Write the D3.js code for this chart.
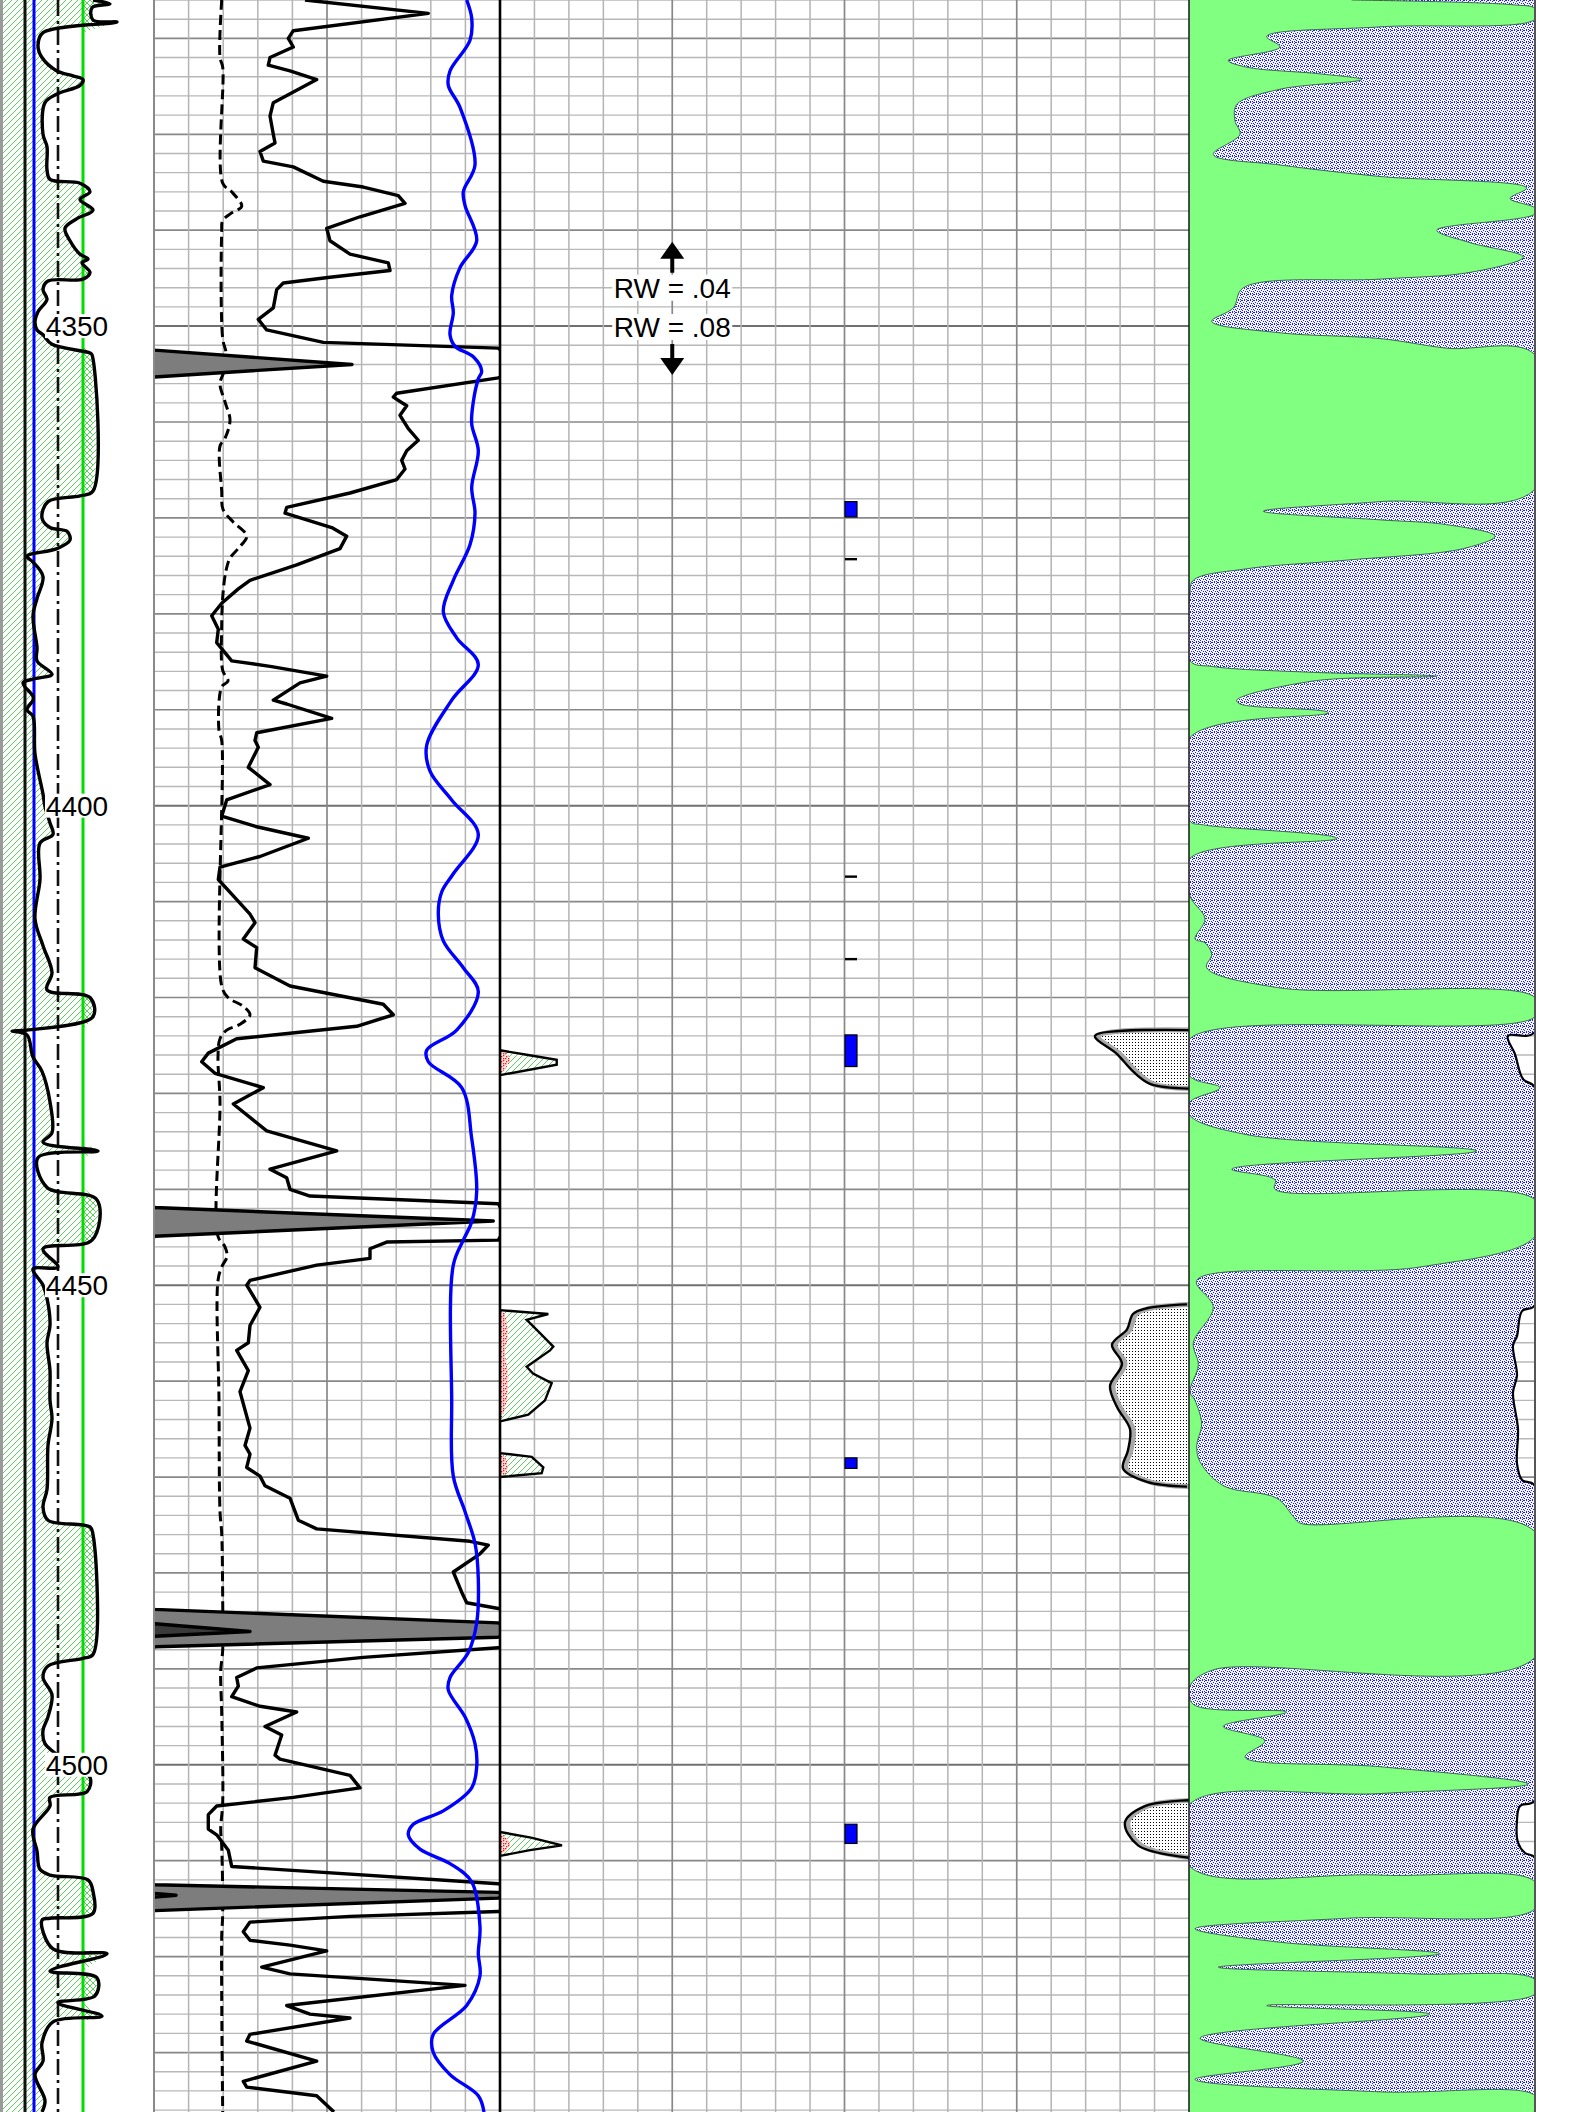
<!DOCTYPE html>
<html><head><meta charset="utf-8">
<script src="https://cdn.jsdelivr.net/npm/d3@7"></script>
<style>body{margin:0;background:#fff}svg{display:block}</style>
</head><body>
<svg id="chart" width="1584" height="2112"></svg>
<script>
// ---------------- DATA ----------------
const depthLabels = [4350, 4400, 4450, 4500];
const rwLabels = ["RW = .04", "RW = .08"];
const rwDepths = [4346.0, 4350.1];

// Track 1 gamma-ray style curve [depth, value 0-150]
const grCurve = [[4316.0,91],[4316.4,108],[4316.8,90],[4318.1,91],[4318.3,115],[4319.4,41],[4320.7,36],[4322.0,40],[4323.4,55],[4323.9,71],[4324.3,81],[4324.9,78],[4325.8,55],[4326.7,43],[4330.0,41],[4331.3,45],[4333.7,45],[4334.7,48],[4335.1,78],[4336.0,88],[4336.8,78],[4337.9,91],[4338.8,75],[4339.8,63],[4341.1,68],[4342.5,78],[4343.0,86],[4343.4,80],[4344.4,88],[4345.1,81],[4345.3,46],[4346.2,41],[4347.2,45],[4348.5,36],[4349.5,33],[4350.4,35],[4350.9,41],[4351.9,50],[4352.8,88],[4353.0,90],[4367.2,91],[4367.7,78],[4368.3,46],[4370.0,40],[4371.0,48],[4371.4,65],[4372.3,68],[4373.2,55],[4374.0,25],[4374.6,31],[4376.1,41],[4378.4,35],[4380.2,31],[4383.5,35],[4384.9,35],[4386.3,50],[4386.8,31],[4387.2,21],[4388.6,31],[4389.0,31],[4390.0,25],[4390.7,31],[4394.6,33],[4398.8,41],[4400.1,43],[4401.8,48],[4403.0,51],[4403.9,38],[4407.7,38],[4411.8,33],[4414.6,41],[4417.4,50],[4419.2,45],[4420.0,88],[4422.0,91],[4423.4,25],[4423.5,10],[4423.9,25],[4426.2,31],[4427.7,40],[4430.9,48],[4434.1,50],[4435.1,41],[4436.0,96],[4436.7,36],[4439.8,45],[4441.1,95],[4445.3,90],[4446.2,41],[4448.1,56],[4448.3,31],[4450.0,41],[4451.9,46],[4454.2,48],[4456.0,45],[4458.9,48],[4462.0,48],[4463.9,50],[4466.7,46],[4471.3,45],[4473.1,41],[4474.5,46],[4475.2,88],[4476.0,91],[4488.5,91],[4488.9,81],[4489.7,46],[4490.9,41],[4492.7,50],[4495.0,46],[4496.4,41],[4497.8,43],[4500.0,70],[4501.3,88],[4502.8,85],[4503.4,48],[4504.3,48],[4506.7,31],[4509.0,35],[4510.9,38],[4511.5,48],[4512.0,86],[4513.2,91],[4515.5,91],[4516.0,48],[4516.2,40],[4519.2,51],[4519.7,105],[4521.5,48],[4522.2,95],[4524.1,93],[4524.8,56],[4526.2,100],[4526.8,51],[4529.0,40],[4530.9,41],[4532.3,33],[4535.0,43],[4536.2,40]];
const grRefLines = {black: 23, blue: 32, dashdot: 56, green: 81};

// Track 2 curves [depth, value 0-346 track units]
const caliper = [[4316.0,67.7],[4322.0,66],[4323.0,68.7],[4335.1,68.7],[4336.0,77.7],[4337.5,87.7],[4338.2,77.7],[4339.0,68.7],[4340.2,67.7],[4351.3,68.7],[4352.8,72],[4354.7,70],[4356.0,66],[4357.9,71],[4359.8,76],[4361.7,71],[4362.5,66],[4367.2,67.7],[4369.1,69],[4370.4,79],[4371.9,92.7],[4373.2,84],[4374.2,76],[4375.5,72],[4377.9,69],[4381.2,67.7],[4385.9,68.7],[4387.0,74],[4387.6,67.7],[4392.2,65],[4393.2,67.7],[4418.8,67.7],[4420.0,74],[4420.9,89],[4421.8,96],[4422.8,86],[4423.4,72.7],[4424.3,66],[4426.2,64],[4430.9,66],[4444.9,64],[4446.0,71],[4447.0,73],[4448.1,67.7],[4449.5,64],[4462.0,65],[4473.6,66],[4475.9,67.7],[4482.9,68.7],[4488.0,68.7],[4490.3,66.7],[4494.5,67.7],[4503.9,68.7],[4506.7,66.7],[4508.5,67.7],[4515.5,68.7],[4517.9,67.7],[4536.2,68.7]];

const resDeep = [[4316.0,151],[4317.4,274.3],[4319.2,139.3],[4320.0,134.3],[4320.9,139.3],[4322.0,116],[4322.8,114.3],[4323.4,136],[4324.3,162.7],[4326.7,119.3],[4328.1,116],[4330.0,119.3],[4330.9,121],[4331.8,106],[4332.8,109.3],[4333.4,139.3],[4334.9,169.3],[4335.5,209.3],[4336.4,244.3],[4337.2,251],[4338.6,206],[4339.8,172.7],[4341.1,176],[4342.5,196],[4343.4,234.3],[4344.2,236],[4344.9,176],[4345.5,129.3],[4346.2,122.7],[4348.1,119.3],[4349.3,104.3],[4350.4,112.7],[4351.7,169.3],[4352.3,344.3],[4352.5,346.5],[4354.0,544],[4355.3,346.5],[4355.4,344.3],[4357.0,242.7],[4357.4,239.3],[4358.3,252.7],[4359.3,246],[4360.7,254.3],[4361.9,264.3],[4363.0,252.7],[4364.0,247.7],[4364.9,251],[4366.0,242.7],[4367.4,196],[4368.9,132.7],[4369.5,131],[4371.0,177.7],[4371.9,192.7],[4373.2,186],[4374.9,142.7],[4376.5,96],[4377.4,84.3],[4378.9,67.7],[4380.2,57.7],[4381.6,64.3],[4383.0,62.7],[4384.9,77.7],[4385.5,117.7],[4386.5,172.7],[4387.2,146],[4389.0,119.3],[4389.4,132.7],[4390.9,177.7],[4392.4,102.7],[4393.2,101],[4393.9,104.3],[4396.0,94.3],[4397.8,116],[4399.4,72.7],[4401.1,67.7],[4402.2,102.7],[4403.4,154.3],[4405.3,106],[4406.4,66],[4407.7,64.3],[4409.4,79.3],[4411.3,96],[4412.2,101],[4413.9,89.3],[4414.8,102.7],[4416.9,101],[4418.8,136],[4420.7,229.3],[4421.8,239.3],[4423.0,202.7],[4424.3,82.7],[4425.8,54.3],[4426.7,47.7],[4427.9,61],[4429.4,109.3],[4431.1,79.3],[4433.9,112.7],[4436.0,182.7],[4437.9,116],[4438.8,132.7],[4440.0,136],[4440.7,156],[4441.5,344.3],[4441.9,346.5],[4443.3,685.3],[4444.9,346.5],[4445.3,344.3],[4445.5,232.7],[4446.2,216],[4447.2,216],[4447.9,162.7],[4449.5,96],[4450.0,92.7],[4452.3,106],[4454.2,96],[4456.0,94.3],[4456.8,82.7],[4458.9,94.3],[4461.1,86],[4464.9,96],[4466.7,91],[4467.6,96],[4469.0,92.7],[4469.9,106],[4470.9,111],[4472.2,136],[4474.5,144.3],[4475.4,162.7],[4476.7,316],[4477.1,334.3],[4478.0,326],[4479.9,299.3],[4482.0,307.7],[4483.1,312.7],[4483.7,344.3],[4483.8,347],[4485.2,690],[4485.3,693],[4486.1,788],[4486.6,693],[4486.7,690],[4487.7,348],[4487.8,344.3],[4488.8,209.3],[4489.9,102.7],[4490.9,82.7],[4491.8,84.3],[4492.9,77.7],[4493.9,106],[4494.5,142.7],[4496.0,111],[4496.9,127.7],[4499.0,121],[4499.4,126],[4501.1,196],[4502.4,206],[4503.4,139.3],[4504.3,62.7],[4505.2,54.3],[4506.7,54.3],[4507.3,62.7],[4508.9,74.3],[4510.6,77.7],[4512.4,344.3],[4512.5,347],[4513.3,690],[4513.4,693],[4513.6,714],[4513.8,693],[4513.9,690],[4515.2,347],[4515.3,344.3],[4515.8,196],[4516.4,96],[4517.4,89.3],[4518.3,96],[4518.8,136],[4519.4,172.7],[4521.1,107.7],[4521.8,136],[4523.0,311],[4525.1,132.7],[4526.0,156],[4526.4,196],[4528.1,96],[4528.8,92.7],[4530.9,162.7],[4533.0,89.3],[4533.6,92.7],[4534.5,162.7],[4536.2,180]];

const sonicBlue = [[4316.0,312.7],[4317.9,317.7],[4320.2,316],[4323.4,296],[4324.9,294.3],[4327.2,306],[4333.2,321],[4336.0,309.3],[4337.4,311],[4341.1,322.7],[4343.9,306],[4346.8,297.7],[4348.6,299.3],[4350.9,296],[4352.1,301],[4353.2,319.3],[4354.7,327.7],[4355.5,324.3],[4357.9,319.3],[4360.2,317.7],[4363.0,324.3],[4366.8,317.7],[4369.5,321],[4372.8,316],[4376.5,299.3],[4379.8,289.3],[4382.5,302.7],[4385.3,324.3],[4389.0,297.7],[4393.7,272.7],[4396.4,276],[4399.4,297.7],[4403.0,324.3],[4407.1,299.3],[4409.0,287.7],[4411.3,284.3],[4414.1,289.3],[4416.9,309.3],[4419.4,324.3],[4423.4,302.7],[4425.5,272.7],[4426.7,274.3],[4429.4,307.7],[4434.7,317.7],[4440.2,322.7],[4443.4,317.7],[4445.3,309.3],[4447.9,299.3],[4462.0,297.7],[4469.9,299.3],[4473.6,311],[4476.9,321],[4480.6,324.3],[4485.2,322.7],[4488.3,314.3],[4490.9,296],[4492.2,294.3],[4495.0,311],[4497.8,321],[4500.2,322.7],[4502.4,317.7],[4504.8,289.3],[4506.2,259.3],[4507.3,254.3],[4508.8,266],[4510.3,296],[4512.2,317.7],[4516.9,326],[4519.7,324.3],[4522.0,326],[4525.1,312.7],[4528.1,279.3],[4530.0,279.3],[4532.3,296],[4534.5,324.3],[4536.2,330]];

// Track 3 flag shapes [depth, outer, inner]
const flagA = [[4425.5,0,0],[4426.0,28,8],[4426.5,56.7,10],[4427.0,56.7,8],[4428.1,0,0]];
const flagB = [[4452.6,0,0],[4453.0,48.3,5],[4453.6,26.7,6],[4455.0,40,8],[4456.4,53.3,6],[4456.8,50,5],[4458.5,26.7,7],[4459.2,33,8],[4460.2,51.7,8],[4462.0,45,7],[4463.5,28.3,3],[4464.2,0,0]];
const flagC = [[4467.5,0,0],[4467.9,31.7,5],[4469.0,43.3,8],[4469.6,41.7,6],[4470.0,0,0]];
const flagD = [[4507.0,0,0],[4507.6,31,6],[4508.4,62,10],[4508.9,30,6],[4509.5,0,0]];
const blueBars = [[4368.3,4369.9],[4423.9,4427.2],[4468.0,4469.1],[4506.2,4508.2]];
const tickMarks = [4374.3, 4407.4, 4416.0];
// stipple zones (left edge in track-3 units, extends to track-4 border)
const stipZone1 = [[4423.4,689],[4424.0,595],[4425.9,617],[4427.7,633],[4429.0,650],[4429.5,689]];
const stipZone2 = [[4452.0,687],[4452.4,647],[4453.0,633],[4454.6,627],[4456.2,612],[4458.2,622],[4460.5,610],[4462.7,617],[4465.0,630],[4467.2,628],[4469.1,623],[4470.5,647],[4471.0,687]];
const stipZone3 = [[4503.7,689],[4504.3,645],[4506.0,625],[4508.4,638],[4509.7,689]];

// Track 4 curves [depth, value 0-346]
const curveA = [[4316.0,162.7],[4316.5,324],[4316.9,346],[4318.0,346],[4318.8,191],[4319.8,77.7],[4320.9,91],[4322.3,39.3],[4323.0,57.7],[4323.7,131],[4324.3,172.7],[4325.3,91],[4326.9,47.7],[4328.6,46],[4330.0,51],[4332.1,24.3],[4333.2,91],[4334.4,191],[4335.6,337.7],[4336.7,321],[4337.7,346],[4338.3,346],[4340.0,247.7],[4341.3,281],[4342.8,334.3],[4344.4,281],[4345.1,191],[4346.0,54.3],[4348.1,44.3],[4349.5,22.7],[4350.7,91],[4351.3,191],[4352.3,257.7],[4353.0,346],[4367.0,346],[4368.3,191],[4369.3,74.3],[4370.2,191],[4370.7,257.7],[4371.9,306],[4373.2,274.3],[4374.4,157.7],[4375.3,57.7],[4376.5,4.3],[4377.9,1],[4384.9,1],[4385.5,24.3],[4386.1,124.3],[4386.5,247.7],[4387.0,124.3],[4389.0,47.7],[4389.4,51],[4390.3,139.3],[4392.9,1],[4401.6,1],[4402.0,14.3],[4403.4,147.7],[4405.5,1],[4409.4,1],[4411.8,16],[4413.9,6],[4414.3,16],[4415.5,22.7],[4416.9,17.7],[4419.0,91],[4420.0,346],[4422.0,346],[4424.3,1],[4428.2,1],[4429.4,31],[4430.9,1],[4432.3,1],[4434.3,57.7],[4436.0,287.7],[4437.9,42.7],[4439.0,86],[4440.0,86],[4441.1,346],[4444.9,346],[4448.1,231],[4449.5,7.7],[4452.3,24.3],[4456.0,4.3],[4458.3,9.3],[4461.1,1],[4462.0,6],[4464.5,12.7],[4466.7,7.7],[4468.4,11],[4470.9,34.3],[4472.2,87.7],[4474.1,104.3],[4474.8,111],[4475.7,346],[4488.8,346],[4490.1,24.3],[4491.8,1],[4493.7,4.3],[4494.5,97.7],[4496.0,34.3],[4497.5,76],[4499.2,56],[4500.2,191],[4502.0,339.3],[4503.0,191],[4504.1,1],[4510.6,1],[4511.5,191],[4512.2,346],[4515.0,346],[4516.0,157.7],[4517.1,6],[4518.5,91],[4519.7,251],[4521.1,29.3],[4521.8,224.3],[4522.4,346],[4523.9,346],[4525.1,77.7],[4526.0,241],[4528.5,11],[4530.9,114.3],[4532.8,6],[4534.1,191],[4534.5,346],[4536.2,346]];
const curveB = [[4316.0,346],[4423.6,346],[4424.0,319],[4425.9,326],[4428.5,334],[4429.4,346],[4452.1,346],[4452.7,333],[4455.3,328],[4456.3,324],[4459.4,328],[4461.2,324],[4465.0,329],[4468.6,328],[4470.3,333],[4470.9,346],[4503.7,346],[4504.3,331],[4505.8,328],[4508.1,329],[4509.2,336],[4509.7,346],[4536.2,346]];

// ---------------- SCALES ----------------
const H = 2112;
const svg = d3.select("#chart");
const y = d3.scaleLinear().domain([4316, 4536.2]).range([0, H]);
const xGR = d3.scaleLinear().domain([0, 150]).range([2, 152]);
const xT2 = d3.scaleLinear().domain([0, 346]).range([154, 500]);
const xT3 = d3.scaleLinear().domain([0, 689]).range([500, 1189]);
const xT4 = d3.scaleLinear().domain([0, 346]).range([1189, 1535]);
const FONT = "'Liberation Sans', Arial, sans-serif";
const smooth = d3.curveCatmullRom.alpha(0.5);

// ---------------- PATTERNS ----------------
const defs = svg.append("defs");
function pat(id, w, h) {
  return defs.append("pattern").attr("id", id).attr("patternUnits", "userSpaceOnUse").attr("width", w).attr("height", h);
}
const ph = pat("hatch", 6, 6);
ph.append("path").attr("d", "M-1,7 L7,-1 M-1,1 L1,-1 M5,7 L7,5").attr("stroke", "#5ccf5c").attr("stroke-width", 1);
const px = pat("xhatch", 6, 6);
px.append("path").attr("d", "M-1,-1 L7,7 M-1,5 L1,7 M5,-1 L7,1").attr("stroke", "#5ccf5c").attr("stroke-width", 1);
const pb = pat("bluedots", 6, 6);
pb.append("rect").attr("width", 6).attr("height", 6).attr("fill", "#f6f6ff");
[[0,0],[2,0],[4,1],[1,2],[3,3],[5,3],[0,4],[2,5],[4,5],[5,0]].forEach(([a,b]) =>
  pb.append("rect").attr("x", a).attr("y", b).attr("width", 1).attr("height", 1).attr("fill", "#1a1aff"));
const ps = pat("stipple", 3, 3);
ps.append("rect").attr("width", 3).attr("height", 3).attr("fill", "#fff");
ps.append("rect").attr("x", 1).attr("y", 1).attr("width", 1).attr("height", 1).attr("fill", "#000");
const pr = pat("reddots", 5, 5);
pr.append("rect").attr("width", 5).attr("height", 5).attr("fill", "#ffe6e6");
[[1,1],[3,3],[0,3],[3,0]].forEach(([a,b]) => pr.append("rect").attr("x", a).attr("y", b).attr("width", 1.3).attr("height", 1.3).attr("fill", "#ff1010"));

function clip(id, x0, x1) {
  defs.append("clipPath").attr("id", id).append("rect").attr("x", x0).attr("y", 0).attr("width", x1 - x0).attr("height", H);
}
clip("c1", 0, 153); clip("c2", 154, 501); clip("c4", 1189, 1535); clip("c3", 500, 1189);

// ---------------- GRID ----------------
const grid = svg.append("g");
const gridDepths = d3.range(4316, 4537, 2);
grid.selectAll("line.h").data(gridDepths).join("line")
  .attr("x1", 154).attr("x2", 1535)
  .attr("y1", d => y(d)).attr("y2", d => y(d))
  .attr("stroke", d => d % 50 === 0 ? "#707070" : d % 10 === 0 ? "#888" : "#b8b8b8")
  .attr("stroke-width", d => d % 50 === 0 ? 2 : d % 10 === 0 ? 1.7 : 1.4);
const v2 = d3.range(1, 10).map(i => ({x: xT2(i * 34.6), major: i % 5 === 0}));
const v3 = d3.range(1, 20).map(i => ({x: xT3(i * 34.45), major: i % 5 === 0}));
grid.selectAll("line.v").data(v2.concat(v3)).join("line")
  .attr("x1", d => d.x).attr("x2", d => d.x).attr("y1", 0).attr("y2", H)
  .attr("stroke", d => d.major ? "#888" : "#b4b4b4").attr("stroke-width", d => d.major ? 1.7 : 1.5);

// ---------------- TRACK 1 ----------------
const t1 = svg.append("g").attr("clip-path", "url(#c1)");
t1.append("path").datum(grCurve).attr("fill", "url(#hatch)")
  .attr("d", d3.area().curve(smooth).y(d => y(d[0])).x0(xGR(0)).x1(d => xGR(d[1])));
t1.append("path").datum(grCurve).attr("fill", "url(#xhatch)")
  .attr("d", d3.area().y(d => y(d[0])).x0(xGR(grRefLines.green)).x1(d => xGR(Math.max(d[1], grRefLines.green))));
t1.append("path").datum(grCurve).attr("fill", "#e00000")
  .attr("d", d3.area().y(d => y(d[0])).x0(d => xGR(Math.min(d[1], grRefLines.black))).x1(xGR(grRefLines.black)));
const refStyle = [
  {v: grRefLines.black, c: "#111", w: 3, dash: null},
  {v: grRefLines.blue, c: "#0000ff", w: 3, dash: null},
  {v: grRefLines.dashdot, c: "#111", w: 2.6, dash: "16,5,3,5"},
  {v: grRefLines.green, c: "#00dd00", w: 3, dash: null}];
t1.selectAll("line.ref").data(refStyle).join("line")
  .attr("x1", d => xGR(d.v)).attr("x2", d => xGR(d.v)).attr("y1", 0).attr("y2", H)
  .attr("stroke", d => d.c).attr("stroke-width", d => d.w).attr("stroke-dasharray", d => d.dash);
t1.append("path").datum(grCurve).attr("fill", "none").attr("stroke", "#000").attr("stroke-width", 3.4)
  .attr("stroke-linejoin", "round")
  .attr("d", d3.line().curve(smooth).y(d => y(d[0])).x(d => xGR(d[1])));
const lab = svg.append("g").selectAll("g").data(depthLabels).join("g")
  .attr("transform", d => `translate(${xGR(75)},${y(d)})`);
lab.append("rect").attr("x", -32).attr("y", -12).attr("width", 64).attr("height", 24).attr("fill", "#fff");
lab.append("text").text(d => d).attr("text-anchor", "middle").attr("dy", "0.36em")
  .attr("font-family", FONT).attr("font-size", 28).attr("fill", "#000");

// ---------------- TRACK 2 ----------------
const t2 = svg.append("g").attr("clip-path", "url(#c2)");
t2.append("path").datum(caliper).attr("fill", "none").attr("stroke", "#000").attr("stroke-width", 3)
  .attr("stroke-dasharray", "10,5").attr("d", d3.line().curve(smooth).y(d => y(d[0])).x(d => xT2(d[1])));
const wrap = 346;
t2.append("path").datum(resDeep).attr("fill", "#7d7d7d")
  .attr("d", d3.area().y(d => y(d[0])).x0(xT2(0)).x1(d => xT2(d[1] - wrap)));
t2.append("path").datum(resDeep).attr("fill", "#3a3a3a")
  .attr("d", d3.area().y(d => y(d[0])).x0(xT2(0)).x1(d => xT2(d[1] - 2 * wrap)));
[0, 1, 2].forEach(k => {
  t2.append("path").datum(resDeep).attr("fill", "none").attr("stroke", "#000").attr("stroke-width", 3.4)
    .attr("stroke-linejoin", "round")
    .attr("d", d3.line().y(d => y(d[0])).x(d => xT2(d[1] - k * wrap)));
});
t2.append("path").datum(sonicBlue).attr("fill", "none").attr("stroke", "#0000ff").attr("stroke-width", 3.4)
  .attr("stroke-linejoin", "round")
  .attr("d", d3.line().y(d => y(d[0])).x(d => xT2(d[1])).curve(smooth));

// ---------------- TRACK 3 ----------------
const t3 = svg.append("g").attr("clip-path", "url(#c3)");
const flags = [flagA, flagB, flagC, flagD];
flags.forEach(f => {
  t3.append("path").datum(f).attr("fill", "#fff").attr("d", d3.area().y(d => y(d[0])).x0(xT3(0)).x1(d => xT3(d[1])));
  t3.append("path").datum(f).attr("fill", "url(#hatch)").attr("d", d3.area().y(d => y(d[0])).x0(xT3(0)).x1(d => xT3(d[1])));
  t3.append("path").datum(f).attr("fill", "url(#reddots)").attr("d", d3.area().y(d => y(d[0])).x0(xT3(0)).x1(d => xT3(d[2])).curve(smooth));
  t3.append("path").datum(f).attr("fill", "none").attr("stroke", "#000").attr("stroke-width", 2.4)
    .attr("d", d3.line().y(d => y(d[0])).x(d => xT3(d[1])));
});
[stipZone1, stipZone2, stipZone3].forEach(z => {
  t3.append("path").datum(z).attr("fill", "url(#stipple)")
    .attr("d", d3.area().y(d => y(d[0])).x0(d => xT3(d[1])).x1(xT3(689)).curve(smooth));
  t3.append("path").datum(z).attr("fill", "none").attr("stroke", "#a8a8a8").attr("stroke-width", 5)
    .attr("transform", "translate(3,0)")
    .attr("d", d3.line().y(d => y(d[0])).x(d => xT3(d[1])).curve(smooth));
  t3.append("path").datum(z).attr("fill", "none").attr("stroke", "#000").attr("stroke-width", 2.4)
    .attr("d", d3.line().y(d => y(d[0])).x(d => xT3(d[1])).curve(smooth));
});
t3.selectAll("rect.bar").data(blueBars).join("rect")
  .attr("x", xT3(345)).attr("width", xT3(357) - xT3(345))
  .attr("y", d => y(d[0])).attr("height", d => y(d[1]) - y(d[0]))
  .attr("fill", "#0000ff").attr("stroke", "#000").attr("stroke-width", 1.2);
t3.selectAll("line.tick").data(tickMarks).join("line")
  .attr("x1", xT3(345)).attr("x2", xT3(357)).attr("y1", d => y(d)).attr("y2", d => y(d))
  .attr("stroke", "#000").attr("stroke-width", 2.4);
// RW annotation
const rwX = xT3(172.25);
const rw = svg.append("g");
rw.selectAll("rect").data(rwDepths).join("rect")
  .attr("x", rwX - 60).attr("width", 120).attr("y", d => y(d) - 13).attr("height", 26).attr("fill", "#fff");
rw.selectAll("text").data(rwLabels).join("text").text(d => d)
  .attr("x", rwX).attr("y", (d, i) => y(rwDepths[i])).attr("dy", "0.36em").attr("text-anchor", "middle")
  .attr("font-family", FONT).attr("font-size", 28).attr("fill", "#000");
const up0 = y(rwDepths[0]) - 15, dn0 = y(rwDepths[1]) + 17;
rw.append("line").attr("x1", rwX).attr("x2", rwX).attr("y1", up0).attr("y2", up0 - 16).attr("stroke", "#000").attr("stroke-width", 4);
rw.append("path").attr("d", `M${rwX - 12},${up0 - 14} L${rwX},${up0 - 31} L${rwX + 12},${up0 - 14} Z`).attr("fill", "#000");
rw.append("line").attr("x1", rwX).attr("x2", rwX).attr("y1", dn0).attr("y2", dn0 + 16).attr("stroke", "#000").attr("stroke-width", 4);
rw.append("path").attr("d", `M${rwX - 12},${dn0 + 14} L${rwX},${dn0 + 31} L${rwX + 12},${dn0 + 14} Z`).attr("fill", "#000");

// ---------------- TRACK 4 ----------------
const t4 = svg.append("g").attr("clip-path", "url(#c4)");
t4.append("path").datum(curveB).attr("fill", "url(#bluedots)")
  .attr("d", d3.area().curve(smooth).y(d => y(d[0])).x0(xT4(0)).x1(d => xT4(d[1])));
t4.append("path").datum(curveA).attr("fill", "#80ff80")
  .attr("d", d3.area().curve(smooth).y(d => y(d[0])).x0(xT4(0)).x1(d => xT4(d[1])));
t4.append("path").datum(curveA).attr("fill", "none").attr("stroke", "#3f6a3f").attr("stroke-width", 1)
  .attr("d", d3.line().curve(smooth).y(d => y(d[0])).x(d => xT4(d[1])));
t4.append("path").datum(curveB).attr("fill", "none").attr("stroke", "#000").attr("stroke-width", 2.2)
  .attr("d", d3.line().y(d => y(d[0])).x(d => xT4(d[1])).curve(smooth));

// ---------------- BORDERS ----------------
const borders = [
  {x: 1.5, c: "#9a9a9a", w: 3}, {x: 154, c: "#8a8a8a", w: 2}, {x: 500, c: "#000", w: 2.6},
  {x: 1189, c: "#222", w: 1.6}, {x: 1535, c: "#555", w: 2}];
svg.append("g").selectAll("line").data(borders).join("line")
  .attr("x1", d => d.x).attr("x2", d => d.x).attr("y1", 0).attr("y2", H)
  .attr("stroke", d => d.c).attr("stroke-width", d => d.w);
</script>
</body></html>
